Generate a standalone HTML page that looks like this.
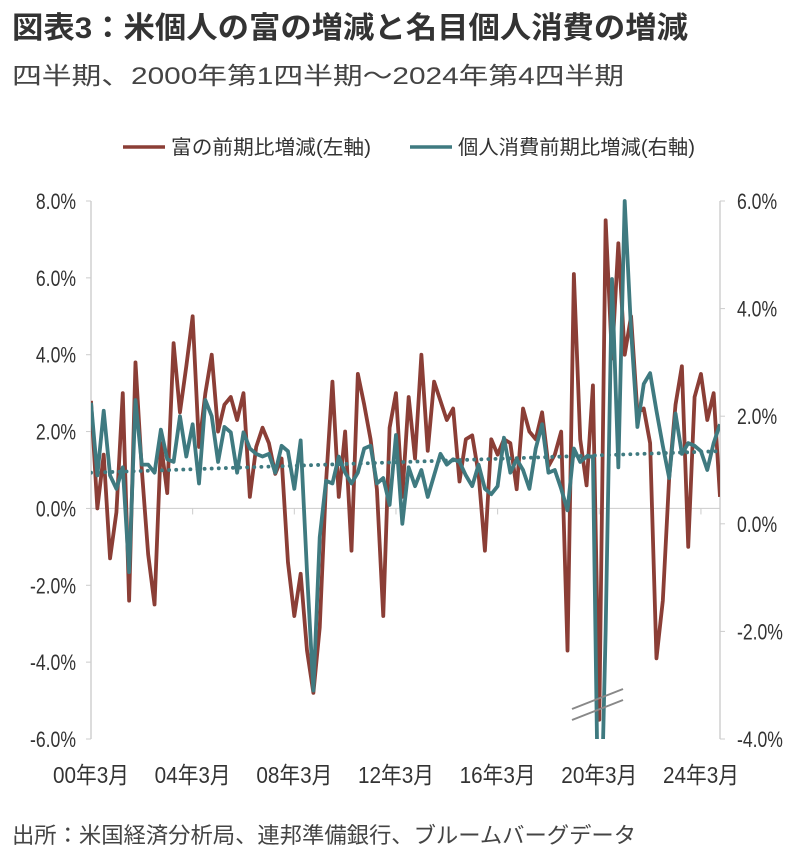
<!DOCTYPE html>
<html><head><meta charset="utf-8">
<style>
body{margin:0;background:#fff;width:801px;height:853px;overflow:hidden;font-family:"Liberation Sans","Noto Sans CJK JP",sans-serif;}
svg text{font-family:"Liberation Sans","Noto Sans CJK JP",sans-serif;}
</style></head><body>
<svg id="chart" width="801" height="853" viewBox="0 0 801 853" xmlns="http://www.w3.org/2000/svg">
<text x="12" y="38" font-size="30" font-weight="bold" fill="#333" textLength="676" lengthAdjust="spacingAndGlyphs">図表3：米個人の富の増減と名目個人消費の増減</text>
<text x="12" y="84" font-size="24" fill="#444" textLength="612" lengthAdjust="spacingAndGlyphs">四半期、2000年第1四半期～2024年第4四半期</text>
<g>
<g><line x1="123" y1="147" x2="165" y2="147" stroke="#8B3E36" stroke-width="3.5"/><text x="171" y="154" font-size="20" fill="#333" textLength="200" lengthAdjust="spacingAndGlyphs">富の前期比増減(左軸)</text></g>
<g><line x1="410" y1="147" x2="452" y2="147" stroke="#3F7A80" stroke-width="3.5"/><text x="458" y="154" font-size="20" fill="#333" textLength="237" lengthAdjust="spacingAndGlyphs">個人消費前期比増減(右軸)</text></g>
</g>
<g id="axes"></g>
<g id="plot"></g>
<text x="12" y="843" font-size="22" fill="#444" textLength="624" lengthAdjust="spacingAndGlyphs">出所：米国経済分析局、連邦準備銀行、ブルームバーグデータ</text>
</svg>
<script>
const wealth=[2.8,0.0,1.4,-1.3,-0.1,3.0,-2.4,3.8,1.0,-1.2,-2.5,1.7,0.4,4.3,2.5,3.7,
5.0,1.6,3.0,4.0,2.0,2.7,2.9,2.3,3.0,0.3,1.6,2.1,1.7,0.9,1.3,-1.4,
-2.8,-1.7,-3.7,-4.8,-3.1,0.7,3.3,0.3,2.0,-1.1,3.5,2.7,1.8,0.5,-2.8,2.1,
3.0,0.3,2.9,1.3,4.0,1.5,3.3,2.8,2.3,2.6,0.7,1.8,1.9,0.9,-1.1,1.8,
1.4,1.8,1.7,0.5,2.6,2.0,1.8,2.5,1.1,1.4,2.0,-3.7,6.1,1.8,0.6,3.2,
-5.5,7.5,3.9,6.9,4.0,5.0,2.5,2.6,1.7,-3.9,-2.4,0.8,2.7,3.7,-1.0,2.9,3.5,2.3,3.0,0.3];
const consumption=[2.25,0.9,2.1,0.9,0.65,1.05,-0.9,2.3,1.1,1.1,0.95,1.75,1.2,1.15,2.0,1.25,
1.85,0.75,2.3,2.0,1.15,1.8,1.7,0.95,1.7,1.4,1.3,1.25,1.3,0.95,1.45,1.35,
0.65,1.55,-0.9,-3.1,-0.25,0.8,0.75,1.25,0.95,0.75,0.95,1.4,1.45,0.75,0.85,0.35,
1.65,0.0,1.05,0.7,1.0,0.5,0.9,1.3,1.1,1.2,1.15,0.9,0.7,1.1,0.65,0.55,
0.7,1.6,0.95,1.2,1.0,0.65,1.4,1.85,0.95,1.0,0.65,0.25,1.4,1.15,1.25,1.25,
-7.0,-2.0,4.55,1.05,6.0,3.6,1.8,2.6,2.8,2.1,1.45,0.85,2.05,1.3,1.5,1.45,1.35,1.0,1.5,1.85];
const trend=[0.95,1.35];
const leftTicks=["8.0%","6.0%","4.0%","2.0%","0.0%","-2.0%","-4.0%","-6.0%"];
const leftTickVals=[8,6,4,2,0,-2,-4,-6];
const rightTicks=["6.0%","4.0%","2.0%","0.0%","-2.0%","-4.0%"];
const rightTickVals=[6,4,2,0,-2,-4];
const xLabels=["00年3月","04年3月","08年3月","12年3月","16年3月","20年3月","24年3月"];
const xLabelIdx=[0,16,32,48,64,80,96];

const X0=91,X1=720,Y0=201,Y1=739;
const xs=i=>X0+i*(X1-X0)/(wealth.length-1);
const yL=v=>Y0+(8-v)*(Y1-Y0)/14;
const yR=v=>Y0+(6-v)*(Y1-Y0)/10;
const NS="http://www.w3.org/2000/svg";
const axes=document.getElementById('axes'),plot=document.getElementById('plot');
function mk(tag,attrs,parent){const e=document.createElementNS(NS,tag);for(const k in attrs)e.setAttribute(k,attrs[k]);parent.appendChild(e);return e;}
const SX=0.8;
let e;
e=mk('line',{x1:X0,y1:Y0,x2:X0,y2:Y1,stroke:'#d0d0d0','stroke-width':1.5},axes);


e=mk('line',{x1:X1,y1:Y0,x2:X1,y2:Y1,stroke:'#d0d0d0','stroke-width':1.5},axes);


e=mk('line',{x1:X0,y1:yL(0),x2:X1,y2:yL(0),stroke:'#cccccc','stroke-width':1},axes);


leftTicks.forEach((t,i)=>{
  mk('line',{x1:X0-5,y1:yL(leftTickVals[i]),x2:X0,y2:yL(leftTickVals[i]),stroke:'#ccc'},axes);
  const tx=mk('text',{x:76,y:yL(leftTickVals[i])+8,'font-size':22,'text-anchor':'end',fill:'#333'},axes);
  tx.setAttribute('transform',`translate(${76*(1-SX)},0) scale(${SX},1)`);
  tx.textContent=t;
  
  
});
rightTicks.forEach((t,i)=>{
  mk('line',{x1:X1,y1:yR(rightTickVals[i]),x2:X1+5,y2:yR(rightTickVals[i]),stroke:'#ccc'},axes);
  const tx=mk('text',{x:737,y:yR(rightTickVals[i])+8,'font-size':22,fill:'#333'},axes);
  tx.setAttribute('transform',`translate(${737*(1-SX)},0) scale(${SX},1)`);
  tx.textContent=t;
  
  
});
xLabels.forEach((t,i)=>{
  const x=xs(xLabelIdx[i]);
  mk('line',{x1:x,y1:yL(0),x2:x,y2:yL(0)+6,stroke:'#ccc'},axes);
  const tx=mk('text',{x:x,y:783,'font-size':23,'text-anchor':'middle',fill:'#333'},axes);
  tx.setAttribute('transform',`translate(${x*0.1},0) scale(0.9,1)`);
  tx.textContent=t;
  
  
});
mk('clipPath',{id:'clip'},plot);
mk('rect',{x:X0,y:Y0-5,width:X1-X0,height:Y1-Y0+5},plot.lastChild);
const g=mk('g',{'clip-path':'url(#clip)'},plot);
e=mk('polyline',{points:wealth.map((v,i)=>xs(i)+','+yL(v)).join(' '),fill:'none',stroke:'#8B3E36','stroke-width':3.8,'stroke-linejoin':'round'},g);


e=mk('line',{x1:xs(0),y1:yR(trend[0]),x2:xs(wealth.length-1),y2:yR(trend[1]),stroke:'#3F7A80','stroke-width':3.8,'stroke-dasharray':'0.1 7','stroke-linecap':'round'},g);


e=mk('polyline',{points:consumption.map((v,i)=>xs(i)+','+yR(v)).join(' '),fill:'none',stroke:'#3F7A80','stroke-width':3.8,'stroke-linejoin':'round'},g);


const br=mk('g',{stroke:'#888','stroke-width':2},plot);


mk('line',{x1:572,y1:709,x2:623,y2:689},br);
mk('line',{x1:572,y1:720,x2:623,y2:700},br);
</script>
</body></html>
